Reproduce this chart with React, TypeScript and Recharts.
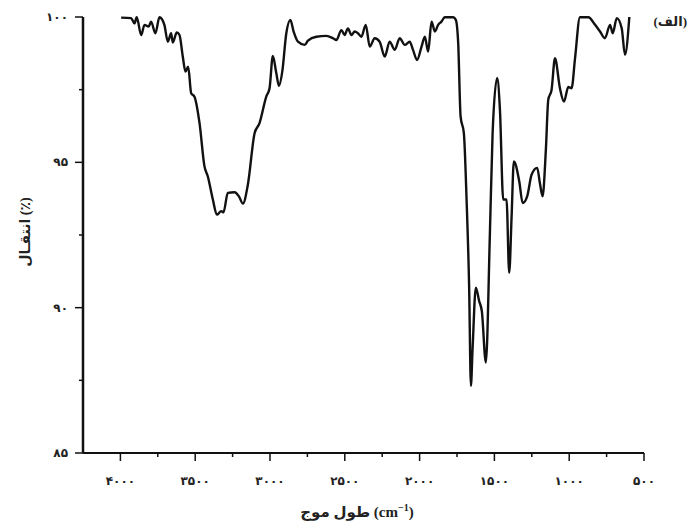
import { LineChart, Line, XAxis, YAxis } from 'recharts'

// طیف IR - موقعیت عدد موج (cm-1) و درصد انتقال
const wavenumbers = [
  3995, 3928, 3906, 3891, 3861, 3839, 3811, 3795, 3766, 3739, 3706, 3683, 3661, 3650, 3623, 3605,
  3583, 3565, 3547, 3527, 3505, 3471, 3438, 3416, 3382, 3355, 3326, 3311, 3282, 3237, 3208, 3181,
  3148, 3103, 3070, 3025, 3003, 2981, 2958, 2940, 2918, 2891, 2864, 2842, 2813, 2768, 2746, 2690,
  2623, 2579, 2556, 2523, 2501, 2479, 2456, 2434, 2412, 2389, 2360, 2333, 2300, 2267, 2233, 2200,
  2166, 2133, 2099, 2066, 2044, 2017, 1987, 1965, 1943, 1920, 1898, 1876, 1854, 1832, 1776, 1758,
  1742, 1726, 1704, 1686, 1669, 1657, 1646, 1624, 1602, 1584, 1557, 1530, 1512, 1482, 1463, 1441,
  1419, 1401, 1385, 1370, 1334, 1311, 1281, 1251, 1214, 1196, 1178, 1156, 1140, 1118, 1095, 1062,
  1035, 1006, 984, 961, 928, 872, 827, 794, 761, 727, 709, 682, 649, 627, 598,
]

const transmittance = [
  99.98, 99.96, 99.78, 99.99, 99.38, 99.73, 99.67, 99.84, 99.44, 99.99, 99.73, 99.15, 99.44, 99.12, 99.47, 99.38,
  98.64, 98.12, 98.29, 97.38, 97.26, 96.35, 94.86, 94.52, 93.72, 93.2, 93.32, 93.28, 93.95, 93.97, 93.83, 93.58,
  94.23, 96.0, 96.35, 97.26, 97.55, 98.66, 98.07, 97.63, 98.12, 99.44, 99.9, 99.5, 99.15, 99.04, 99.19, 99.32,
  99.35, 99.27, 99.21, 99.55, 99.38, 99.61, 99.38, 99.5, 99.44, 99.32, 99.73, 98.98, 99.27, 99.15, 98.64, 99.15,
  98.87, 99.27, 99.04, 99.15, 98.87, 98.52, 98.98, 99.32, 98.81, 99.84, 99.5, 99.73, 99.84, 99.99, 99.99, 99.9,
  99.1, 96.58, 96.0, 93.72, 90.74, 87.31, 88.57, 90.69, 90.23, 89.88, 88.11, 92.57, 96.0, 97.9, 96.81, 93.72,
  93.72, 91.2, 93.14, 95.03, 94.35, 93.6, 93.83, 94.58, 94.81, 94.29, 93.83, 95.43, 97.15, 97.49, 98.58, 97.55,
  97.09, 97.59, 97.55, 98.58, 99.99, 99.99, 99.73, 99.5, 99.27, 99.73, 99.44, 99.96, 99.61, 98.7, 100,
]

const xTicks = [4000, 3750, 3500, 3250, 3000, 2750, 2500, 2250, 2000, 1750, 1500, 1250, 1000, 750, 500]
const xTickLabels: Record<number, string> = {
  4000: '۴۰۰۰', 3500: '۳۵۰۰', 3000: '۳۰۰۰', 2500: '۲۵۰۰', 2000: '۲۰۰۰', 1500: '۱۵۰۰', 1000: '۱۰۰۰', 500: '۵۰۰',
}
const yTicks = [85, 87.5, 90, 92.5, 95, 97.5, 100]
const yTickLabels: Record<number, string> = { 85: '۸۵', 90: '۹۰', 95: '۹۵', 100: '۱۰۰' }

const data = wavenumbers.map((wn, i) => ({ wn, t: transmittance[i] }))

const FONT = "'Liberation Serif', 'DejaVu Sans', serif"

const XTick = ({ x, y, payload }: any) => {
  const label = xTickLabels[payload.value]
  return (
    <g>
      <line x1={x} y1={y} x2={x} y2={y + (label ? 8 : 4)} stroke="#111" strokeWidth={1.5} />
      {label && (
        <text x={x} y={y + 32} textAnchor="middle" fontSize={12} fontWeight="bold" fontFamily={FONT} fill="#222">
          {label}
        </text>
      )}
    </g>
  )
}

const YTick = ({ x, y, payload }: any) => {
  const label = yTickLabels[payload.value]
  return (
    <g>
      <line x1={x} y1={y} x2={x - (label ? 8 : 4)} y2={y} stroke="#111" strokeWidth={1.5} />
      {label && (
        <text x={x - 15} y={y + 4} textAnchor="end" fontSize={12} fontWeight="bold" fontFamily={FONT} fill="#222">
          {label}
        </text>
      )}
    </g>
  )
}

export default function App() {
  return (
    <div style={{ position: 'fixed', top: 0, left: 0, width: 691, height: 527, background: '#fff' }}>
      <LineChart width={691} height={527} data={data} margin={{ top: 17, right: 47, bottom: 0, left: 0 }}>
        <XAxis
          type="number"
          dataKey="wn"
          domain={[500, 4250]}
          reversed
          ticks={xTicks}
          interval={0}
          height={74}
          tickSize={0}
          tickMargin={0}
          tickLine={false}
          tick={<XTick />}
          axisLine={{ stroke: '#111', strokeWidth: 2 }}
        />
        <YAxis
          type="number"
          domain={[85, 100]}
          ticks={yTicks}
          interval={0}
          width={83}
          tickSize={0}
          tickMargin={0}
          tickLine={false}
          tick={<YTick />}
          axisLine={{ stroke: '#111', strokeWidth: 2.5 }}
        />
        <Line
          type="monotoneX"
          dataKey="t"
          stroke="#111"
          strokeWidth={2.4}
          strokeLinejoin="round"
          dot={false}
          isAnimationActive={false}
        />
      </LineChart>
      <svg width={691} height={527} style={{ position: 'absolute', top: 0, left: 0, pointerEvents: 'none' }}>
        <text x={687} y={26} textAnchor="end" fontSize={13} fontWeight="bold" fontFamily={FONT} fill="#222">
          (الف)
        </text>
        <text
          x={30}
          y={232}
          transform="rotate(-90 30 232)"
          textAnchor="middle"
          fontSize={14}
          fontWeight="bold"
          fontFamily={FONT}
          fill="#222"
        >
          انتقـال (٪)
        </text>
        <text x={357} y={517} textAnchor="middle" fontSize={15} fontWeight="bold" fontFamily={FONT} fill="#222">
          طول موج (cm
          <tspan fontSize={10} dy={-6}>−1</tspan>
          <tspan dy={6}>)</tspan>
        </text>
      </svg>
    </div>
  )
}
